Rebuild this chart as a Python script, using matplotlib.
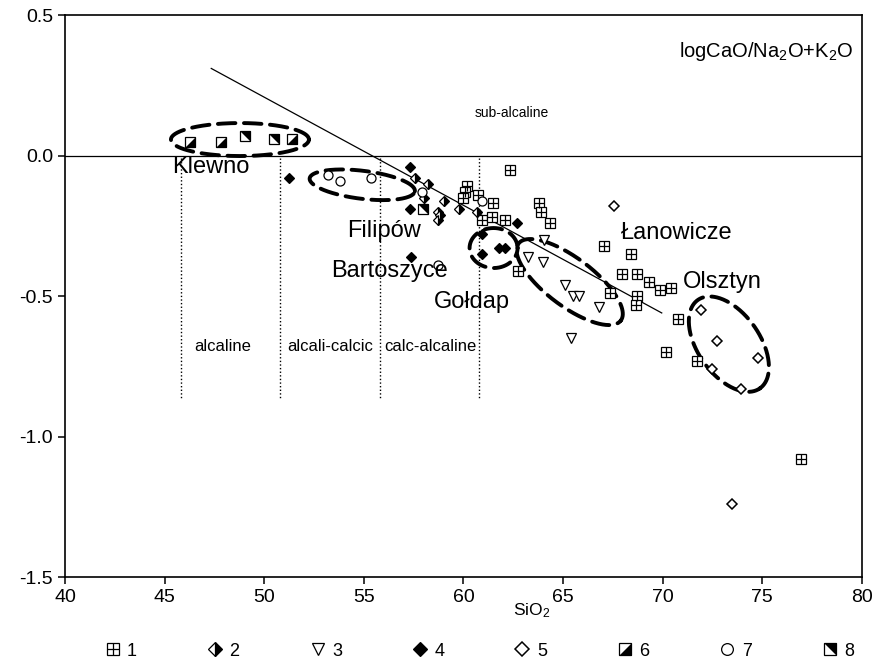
import matplotlib
matplotlib.use("Agg")
import matplotlib.pyplot as plt
import numpy as np
from matplotlib.lines import Line2D
from matplotlib.legend_handler import HandlerTuple

plt.rcParams['font.family'] = ['Liberation Sans', 'DejaVu Sans']
plt.rcParams['axes.unicode_minus'] = False
plt.rcParams['mathtext.default'] = 'regular'

# SiO2 (wt%) vs log CaO/(Na2O+K2O) for the eight sample groups
s1_sio2 = [62.35, 60.20, 60.08, 59.96, 60.72, 61.46, 60.95, 61.42, 62.09, 63.77, 63.89,
           64.32, 62.76, 67.04, 68.41, 67.96, 68.72, 69.30, 69.88, 70.39, 67.37, 68.72,
           68.66, 70.77, 70.17, 71.72, 76.93]
s1_log = [-0.05, -0.11, -0.13, -0.15, -0.14, -0.17, -0.23, -0.22, -0.23, -0.17, -0.20,
          -0.24, -0.41, -0.32, -0.35, -0.42, -0.42, -0.45, -0.48, -0.47, -0.49, -0.50,
          -0.53, -0.58, -0.70, -0.73, -1.08]
s2_sio2 = [57.57, 58.20, 58.02, 58.74, 58.83, 59.78, 60.67, 58.71, 59.00]
s2_log = [-0.08, -0.10, -0.15, -0.20, -0.21, -0.19, -0.20, -0.23, -0.16]
s3_sio2 = [64.02, 63.22, 63.98, 65.08, 65.50, 65.81, 66.78, 65.41]
s3_log = [-0.30, -0.36, -0.38, -0.46, -0.50, -0.50, -0.54, -0.65]
s4_sio2 = [51.26, 57.32, 57.32, 57.37, 60.95, 60.95, 61.76, 62.10, 62.68]
s4_log = [-0.08, -0.04, -0.19, -0.36, -0.28, -0.35, -0.33, -0.33, -0.24]
s5_sio2 = [71.93, 72.73, 74.79, 72.48, 73.93, 73.48, 67.57]
s5_log = [-0.55, -0.66, -0.72, -0.76, -0.83, -1.24, -0.18]
s6_sio2 = [46.27, 47.85, 51.41]
s6_log = [0.05, 0.05, 0.06]
s7_sio2 = [53.22, 53.80, 55.36, 57.90, 60.92, 58.74]
s7_log = [-0.07, -0.09, -0.08, -0.13, -0.16, -0.39]
s8_sio2 = [49.03, 50.50, 57.99]
s8_log = [0.07, 0.06, -0.19]

# divider between alkaline-series fields
trend_sio2 = [47.34, 69.95]
trend_log = [0.31, -0.56]
field_bounds = [45.8, 50.8, 55.8, 60.8]
field_names = ['alcaline', 'alcali-calcic', 'calc-alcaline']
field_label_x = [47.9, 53.3, 58.35]

# intrusion names and where they sit
sites = ['Klewno', 'Filipów', 'Bartoszyce', 'Gołdap', 'Łanowicze', 'Olsztyn']
site_x = [47.3, 56.0, 56.3, 60.4, 70.7, 73.0]
site_y = [-0.04, -0.27, -0.41, -0.52, -0.275, -0.45]

# dashed outlines: centre (SiO2, log), axes in pixels, tilt in degrees
outline_cx = [48.78, 54.92, 61.51, 65.33, 73.32]
outline_cy = [0.057, -0.104, -0.329, -0.45, -0.671]
outline_w = [138, 106, 48, 128, 108]
outline_h = [33, 28, 40, 48, 62]
outline_ang = [0, -7, 0, -37, -55]

fig = plt.figure(figsize=(8.82, 6.68), dpi=100)
ax = fig.add_axes([0.0737, 0.136, 0.9036, 0.8415])
ax.set_xlim(40, 80)
ax.set_ylim(-1.5, 0.5)

px_x = fig.get_figwidth() * fig.dpi * 0.9036 / 40.0
px_y = fig.get_figheight() * fig.dpi * 0.8415 / 2.0

ax.axhline(0, color='black', lw=0.9, zorder=1)
ax.plot(trend_sio2, trend_log, color='black', lw=0.9, zorder=1)
for xb in field_bounds:
    ax.plot([xb, xb], [-0.01, -0.865], color='black', lw=1.0, ls=(0, (1.0, 1.6)), zorder=1)
for name, xl in zip(field_names, field_label_x):
    ax.text(xl, -0.68, name, fontsize=12, ha='center', va='center')
ax.text(62.4, 0.15, 'sub-alcaline', fontsize=10, ha='center', va='center')
ax.text(75.2, 0.37, 'logCaO/Na$_2$O+K$_2$O', fontsize=14.5, ha='center', va='center')

for name, xs, ys in zip(sites, site_x, site_y):
    ax.text(xs, ys, name, fontsize=17, ha='center', va='center', zorder=4)

t = np.linspace(0, 2 * np.pi, 300)
for cx, cy, w, h, a in zip(outline_cx, outline_cy, outline_w, outline_h, outline_ang):
    th = np.radians(a)
    ex = w / 2 * np.cos(t) * np.cos(th) - h / 2 * np.sin(t) * np.sin(th)
    ey = w / 2 * np.cos(t) * np.sin(th) + h / 2 * np.sin(t) * np.cos(th)
    ax.plot(cx + ex / px_x, cy + ey / px_y, color='black', lw=2.8,
            ls=(0, (4.5, 2.2)), solid_capstyle='round', dash_capstyle='round', zorder=2)

lower_right = [(1, 1), (1, -1), (-1, -1)]
upper_right = [(-1, 1), (1, 1), (1, -1)]

st1a = dict(marker='s', ms=6.5, mfc='white', mec='black', mew=0.9, ls='none')
st1b = dict(marker='+', ms=6.5, color='black', mew=0.9, ls='none')
st2 = dict(marker='D', ms=5.5, mfc='black', mfcalt='white', fillstyle='right',
           mec='black', mew=0.9, ls='none')
st3 = dict(marker='v', ms=6.5, mfc='white', mec='black', mew=0.9, ls='none')
st4 = dict(marker='D', ms=5.5, mfc='black', mec='black', mew=0.9, ls='none')
st5 = dict(marker='D', ms=5.5, mfc='white', mec='black', mew=1.1, ls='none')
st6a = dict(marker='s', ms=6.5, mfc='white', mec='black', mew=0.9, ls='none')
st6b = dict(marker=lower_right, ms=6.5, mfc='black', mec='black', mew=0.5, ls='none')
st7 = dict(marker='o', ms=6.5, mfc='white', mec='black', mew=0.9, ls='none')
st8b = dict(marker=upper_right, ms=6.5, mfc='black', mec='black', mew=0.5, ls='none')

ax.plot(s1_sio2, s1_log, zorder=3, **st1a)
ax.plot(s1_sio2, s1_log, zorder=3, **st1b)
ax.plot(s2_sio2, s2_log, zorder=3, **st2)
ax.plot(s3_sio2, s3_log, zorder=3, **st3)
ax.plot(s4_sio2, s4_log, zorder=3, **st4)
ax.plot(s5_sio2, s5_log, zorder=3, **st5)
ax.plot(s6_sio2, s6_log, zorder=3, **st6a)
ax.plot(s6_sio2, s6_log, zorder=3, **st6b)
ax.plot(s7_sio2, s7_log, zorder=3, **st7)
ax.plot(s8_sio2, s8_log, zorder=3, **st6a)
ax.plot(s8_sio2, s8_log, zorder=3, **st8b)

ax.set_xticks(range(40, 81, 5))
ax.set_yticks([-1.5, -1.0, -0.5, 0.0, 0.5])
ax.set_yticklabels(['-1.5', '-1.0', '-0.5', '0.0', '0.5'])
ax.tick_params(direction='out', length=5, width=1.1, labelsize=14)
for sp in ax.spines.values():
    sp.set_linewidth(1.2)
ax.text(63.4, -0.06, 'SiO$_2$', fontsize=12.5, ha='center', va='center',
        transform=ax.get_xaxis_transform())

handles = [
    (Line2D([], [], **st1a), Line2D([], [], **st1b)),
    Line2D([], [], **st2),
    Line2D([], [], **st3),
    Line2D([], [], **st4),
    Line2D([], [], **st5),
    (Line2D([], [], **st6a), Line2D([], [], **st6b)),
    Line2D([], [], **st7),
    (Line2D([], [], **st6a), Line2D([], [], **st8b)),
]
labels = ['1', '2', '3', '4', '5', '6', '7', '8']
fig.legend(handles, labels, ncol=8, loc='center', bbox_to_anchor=(0.543, 0.025),
           frameon=False, fontsize=13, handlelength=1.0, handletextpad=0.3,
           columnspacing=3.82, markerscale=1.3,
           handler_map={tuple: HandlerTuple(ndivide=1)})

fig.savefig('out.png', dpi=100)
